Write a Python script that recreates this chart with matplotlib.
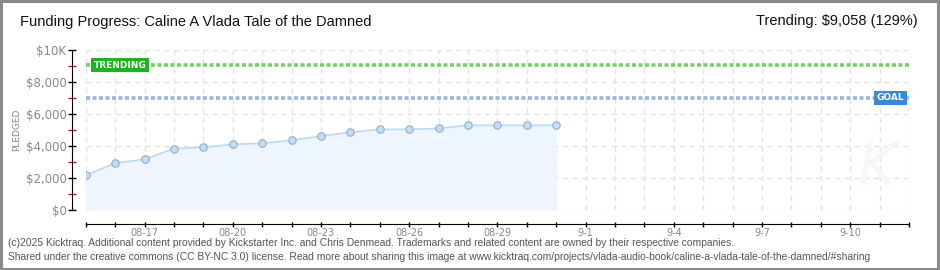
import matplotlib
matplotlib.use("Agg")
import matplotlib.pyplot as plt
from matplotlib.ticker import FixedLocator, NullFormatter
import numpy as np

# ---- data ----
dates = ["08-15", "08-16", "08-17", "08-18", "08-19", "08-20", "08-21", "08-22",
         "08-23", "08-24", "08-25", "08-26", "08-27", "08-28", "08-29", "08-30", "08-31"]
pledged = [2170, 2920, 3170, 3830, 3920, 4100, 4170, 4350,
           4620, 4850, 5040, 5040, 5100, 5290, 5290, 5290, 5290]
axis_days = ["08-15", "08-16", "08-17", "08-18", "08-19", "08-20", "08-21", "08-22",
             "08-23", "08-24", "08-25", "08-26", "08-27", "08-28", "08-29", "08-30",
             "08-31", "9-1", "9-2", "9-3", "9-4", "9-5", "9-6", "9-7", "9-8", "9-9",
             "9-10", "9-11", "9-12"]
xtick_labels = ["08-17", "08-20", "08-23", "08-26", "08-29", "9-1", "9-4", "9-7", "9-10"]
ytick_values = [0, 2000, 4000, 6000, 8000, 10000]
ytick_labels = ["$0", "$2,000", "$4,000", "$6,000", "$8,000", "$10K"]
goal = 7000
trending = 9058
trending_pct = 129

W, H = 940, 270
fig = plt.figure(figsize=(W / 100, H / 100), dpi=100)
fig.patch.set_facecolor("white")

# frame
fig.add_artist(plt.Rectangle((0.001, 0.002), 0.997, 0.995, transform=fig.transFigure,
                             fill=False, edgecolor="#8a8a8a", linewidth=2.2))

ax = fig.add_axes([85.7 / W, (H - 210) / H, (909 - 85.7) / W, 160 / H])
ax.set_xlim(0, len(axis_days) - 1)
ax.set_ylim(0, 10000)

xi = np.arange(len(dates))
# grid
for d in range(len(axis_days)):
    ax.axvline(d, color="#e4e4e4", lw=1, ls=(0, (4, 3)), zorder=0)
for v in ytick_values:
    ax.axhline(v, color="#e4e4e4", lw=1, ls=(0, (4, 3)), zorder=0)

ax.fill_between(xi, pledged, 0, color="#eef5fd", zorder=1, lw=0)
ax.plot(xi, pledged, color="#bcd8f5", lw=1.2, zorder=2)
ax.plot(xi, pledged, ls="none", marker="o", ms=5.3, mfc="#c5ddf6", mec="#93b3d6",
        mew=0.9, zorder=3)

# goal and trending lines
ax.axhline(trending, color="#70d462", lw=2.6, ls=(0, (1.1, 0.7)), zorder=2)
ax.axhline(goal, color="#95b8dc", lw=2.6, ls=(0, (1.1, 0.7)), zorder=2)

ax.text(0.28, trending, "TRENDING", color="white", fontsize=6.5, fontweight="bold",
        ha="left", va="center", zorder=5,
        bbox=dict(boxstyle="square,pad=0.28", fc="#1db41d", ec="none"))
ax.text(27.85, goal, "GOAL", color="white", fontsize=6.5, fontweight="bold",
        ha="right", va="center", zorder=5,
        bbox=dict(boxstyle="square,pad=0.28", fc="#3a88d8", ec="none"))

# watermark
ax.text(26.9, 2600, "K", fontsize=42, color="#f7f7f7", style="italic",
        ha="center", va="center", zorder=0.5)

# spines
for s in ["top", "right"]:
    ax.spines[s].set_visible(False)
ax.spines["left"].set_position(("outward", 10))
ax.spines["bottom"].set_position(("outward", 10))
ax.spines["left"].set_color("black")
ax.spines["bottom"].set_color("black")

ax.xaxis.set_major_locator(FixedLocator(range(len(axis_days))))
lab = [d if d in xtick_labels else "" for d in axis_days]
ax.set_xticklabels(lab)
ax.tick_params(axis="x", direction="inout", length=3.6, width=1, color="black",
               labelsize=7, labelcolor="#888888", pad=1)
ax.yaxis.set_major_locator(FixedLocator(ytick_values))
ax.set_yticklabels(ytick_labels)
ax.yaxis.set_minor_locator(FixedLocator([1000, 3000, 5000, 7000, 9000]))
ax.yaxis.set_minor_formatter(NullFormatter())
ax.tick_params(axis="y", which="major", direction="inout", length=5.8, width=1,
               color="black", labelsize=8.5, labelcolor="#888888", pad=1)
ax.tick_params(axis="y", which="minor", direction="inout", length=5.8, width=1,
               color="#e60000")
ax.set_ylabel("PLEDGED", fontsize=6.5, color="#888888")
ax.yaxis.set_label_coords(-(85.7 - 21) / (909 - 85.7), 0.5)

# titles
fig.text(20 / W, 1 - 22 / H, "Funding Progress: Caline A Vlada Tale of the Damned",
         fontsize=10.5, family="Liberation Sans", color="#111111",
         ha="left", va="center")
fig.text(918 / W, 1 - 21 / H, "Trending: $9,058 (129%)",
         fontsize=10.5, family="Liberation Sans", color="#111111",
         ha="right", va="center")

fig.text(8 / W, 1 - 243 / H,
         "(c)2025 Kicktraq. Additional content provided by Kickstarter Inc. and Chris Denmead. "
         "Trademarks and related content are owned by their respective companies.",
         fontsize=7.4, family="Liberation Sans", color="#555555", ha="left", va="center")
fig.text(8 / W, 1 - 257 / H,
         "Shared under the creative commons (CC BY-NC 3.0) license. Read more about sharing this image at "
         "www.kicktraq.com/projects/vlada-audio-book/caline-a-vlada-tale-of-the-damned/#sharing",
         fontsize=7.4, family="Liberation Sans", color="#555555", ha="left", va="center")

fig.savefig("out.png", dpi=100, facecolor="white")
